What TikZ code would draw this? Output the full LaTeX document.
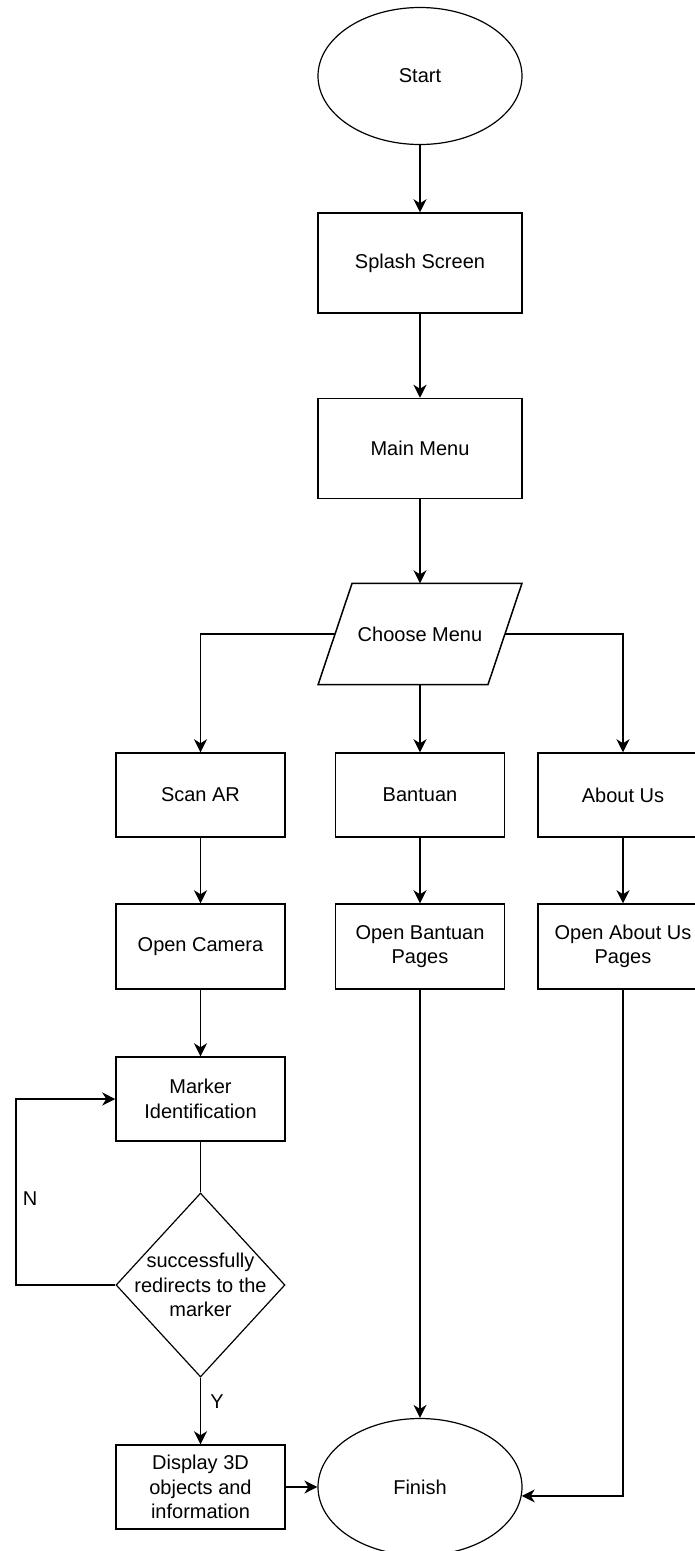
\documentclass[tikz,border=0pt]{standalone}
\usepackage{fontspec}
\setmainfont{Liberation Sans}
\usepackage{tikz}
\usetikzlibrary{shapes.geometric}
\usetikzlibrary{arrows.meta}

\begin{document}
\begin{tikzpicture}[x=1pt, y=-1pt,
  txt/.style={font=\fontsize{20}{24.5}\selectfont, align=center},
  box/.style={txt, draw, line width=1.5pt, minimum width=169pt,
       minimum height=84pt, inner sep=2pt},
  widebox/.style={box, minimum width=204pt, minimum height=100pt},
  oval/.style={txt, draw, line width=1.2pt, ellipse,
       minimum width=204pt, minimum height=137pt},
  flow/.style={line width=1.5pt, -{Stealth[length=13pt, width=13pt, inset=4pt]}},
  link/.style={line width=1.5pt}]

\useasboundingbox (0,0) rectangle (695,1551);

\node[oval] (start) at (420, 76) {Start};
\node[widebox] (splash) at (420, 263) {Splash Screen};
\node[widebox] (mainmenu) at (420, 448.5) {Main Menu};
\node[txt, minimum width=169.5pt, minimum height=101pt] (choose) at (420, 634) {Choose Menu};
\draw[line width=1.5pt] ([xshift=17pt]choose.north west) -- ([xshift=17pt]choose.north east)
  -- ([xshift=-17pt]choose.south east) -- ([xshift=-17pt]choose.south west) -- cycle;

\node[box] (scan) at (200.5, 795) {Scan AR};
\node[box] (bantuan) at (420, 795) {Bantuan};
\node[box, minimum width=170pt] (about) at (623, 795) {About Us};

\node[box, minimum height=85pt] (opencam) at (200.5, 946.5) {Open Camera};
\node[box, minimum height=85pt] (openbantuan) at (420, 946.5) {Open Bantuan\\Pages};
\node[box, minimum height=85pt, minimum width=170pt] (openabout) at (623, 946.5)
      {Open About Us\\Pages};

\node[box] (marker) at (200.5, 1099) {Marker\\Identification};
\node[draw, line width=1.2pt, diamond, inner sep=0pt, minimum width=169pt,
      minimum height=184pt] (check) at (200.5, 1285) {};
\node[txt] (checktext) at (check) {successfully\\redirects to the\\marker};
\node[box] (display) at (200.5, 1487) {Display 3D\\objects and\\information};
\node[oval] (finish) at (420, 1487) {Finish};

\node[txt] (nlabel) at (30, 1199) {N};
\node[txt] (ylabel) at (217, 1402) {Y};
\coordinate (loopcorner) at (16, 1285);

\draw[flow] (start) -- (splash);
\draw[flow] (splash) -- (mainmenu);
\draw[flow] (mainmenu) -- (choose);
\draw[flow] (choose.west) -| (scan);
\draw[flow] (choose) -- (bantuan);
\draw[flow] (choose.east) -| (about);
\draw[flow] (scan) -- (opencam);
\draw[flow] (bantuan) -- (openbantuan);
\draw[flow] (about) -- (openabout);
\draw[flow] (opencam) -- (marker);
\draw[link] (marker) -- (check);
\draw[flow] (check.west) -- (loopcorner) |- (marker.west);
\draw[flow] (check) -- (display);
\draw[flow] (display) -- (finish);
\draw[flow] (openbantuan) -- (finish);
\draw[flow] (openabout.south) |- (finish.-5);
\end{tikzpicture}
\end{document}
